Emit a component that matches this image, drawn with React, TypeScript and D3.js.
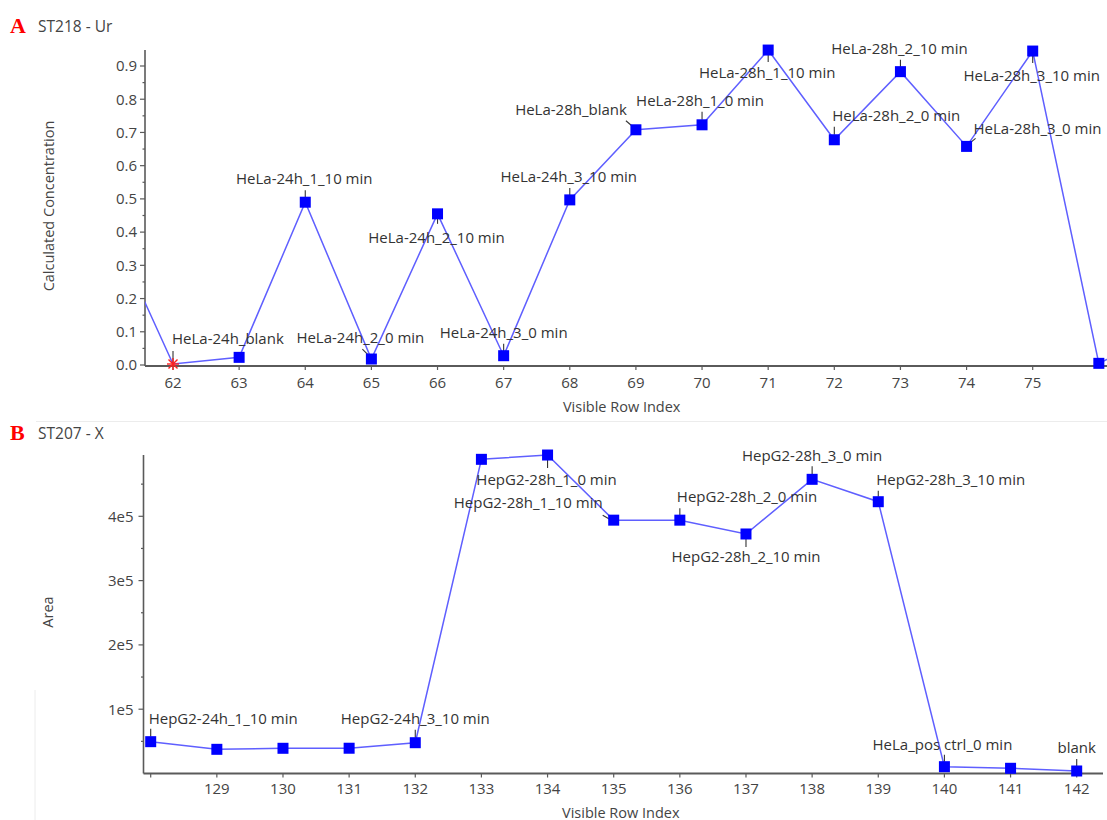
import React from 'react';
import * as d3 from 'd3';

// ---------- Panel A data (ST218 - Ur) ----------
const rowsA = [61, 62, 63, 64, 65, 66, 67, 68, 69, 70, 71, 72, 73, 74, 75, 76, 77];
const concA = [0.44, 0.003, 0.023, 0.49, 0.018, 0.455, 0.028, 0.497, 0.708, 0.723, 0.948, 0.678, 0.883, 0.658, 0.945, 0.005, 0.1];
const samplesA = ['', 'HeLa-24h_blank', '', 'HeLa-24h_1_10 min', 'HeLa-24h_2_0 min', 'HeLa-24h_2_10 min', 'HeLa-24h_3_0 min', 'HeLa-24h_3_10 min', 'HeLa-28h_blank', 'HeLa-28h_1_0 min', 'HeLa-28h_1_10 min', 'HeLa-28h_2_0 min', 'HeLa-28h_2_10 min', 'HeLa-28h_3_0 min', 'HeLa-28h_3_10 min', '', ''];
const excludedA = [62];
const xTicksA = [62, 63, 64, 65, 66, 67, 68, 69, 70, 71, 72, 73, 74, 75];
const yTicksA = [0, 0.1, 0.2, 0.3, 0.4, 0.5, 0.6, 0.7, 0.8, 0.9];
const yTickLabelsA = ['0.0', '0.1', '0.2', '0.3', '0.4', '0.5', '0.6', '0.7', '0.8', '0.9'];
const yMinorA = [0.05, 0.15, 0.25, 0.35, 0.45, 0.55, 0.65, 0.75, 0.85];

// ---------- Panel B data (ST207 - X) ----------
const rowsB = [128, 129, 130, 131, 132, 133, 134, 135, 136, 137, 138, 139, 140, 141, 142];
const areaB = [49500, 37600, 39200, 39300, 47900, 488600, 495300, 394000, 394000, 372500, 457500, 422700, 10600, 8100, 3900];
const samplesB = ['HepG2-24h_1_10 min', '', '', '', 'HepG2-24h_3_10 min', '', 'HepG2-28h_1_0 min', 'HepG2-28h_1_10 min', 'HepG2-28h_2_0 min', 'HepG2-28h_2_10 min', 'HepG2-28h_3_0 min', 'HepG2-28h_3_10 min', 'HeLa_pos ctrl_0 min', '', 'blank'];
const xTicksB = [128, 129, 130, 131, 132, 133, 134, 135, 136, 137, 138, 139, 140, 141, 142];
const xTickLabelsB = ['', '129', '130', '131', '132', '133', '134', '135', '136', '137', '138', '139', '140', '141', '142'];
const yTicksB = [100000, 200000, 300000, 400000];
const yTickLabelsB = ['1e5', '2e5', '3e5', '4e5'];
const yMinorB = [50000, 150000, 250000, 350000, 450000];

// ---------- label placement (offsets relative to the point, px) ----------
type LabelPos = { anchor: 'start' | 'middle' | 'end'; dx: number; dy: number; leader: [number, number, number, number] };
const labelPosA: Record<number, LabelPos> = {
  62: { anchor: 'start', dx: -1, dy: -25, leader: [0, -13, 0, -1] },
  64: { anchor: 'middle', dx: -1, dy: -23, leader: [0, -12, 0, -4] },
  65: { anchor: 'start', dx: -75, dy: -21, leader: [-9, -10, -2, -3] },
  66: { anchor: 'middle', dx: -1, dy: 24, leader: [0, 4, 0, 10] },
  67: { anchor: 'middle', dx: 0, dy: -23, leader: [0, -12, 0, -4] },
  68: { anchor: 'middle', dx: -1, dy: -23, leader: [0, -12, 0, -4] },
  69: { anchor: 'end', dx: -9, dy: -20, leader: [-10, -9, -3, -3] },
  70: { anchor: 'middle', dx: -2, dy: -24, leader: [0, -13, 0, -5] },
  71: { anchor: 'middle', dx: -1, dy: 23, leader: [0, 4, 0, 12] },
  72: { anchor: 'start', dx: -2, dy: -24, leader: [0, -13, 0, -5] },
  73: { anchor: 'middle', dx: -1, dy: -23, leader: [0, -12, 0, -4] },
  74: { anchor: 'start', dx: 7, dy: -18, leader: [9, -8, 3, -3] },
  75: { anchor: 'middle', dx: -1, dy: 25, leader: [0, 4, 0, 12] },
};
const labelPosB: Record<number, LabelPos> = {
  128: { anchor: 'start', dx: -2, dy: -23, leader: [0, -13, 0, -5] },
  132: { anchor: 'middle', dx: 0, dy: -24, leader: [0, -13, 0, -5] },
  134: { anchor: 'middle', dx: -1, dy: 25, leader: [0, 4, 0, 13] },
  135: { anchor: 'end', dx: -11, dy: -17, leader: [-11, -5, -4, -1] },
  136: { anchor: 'start', dx: -3, dy: -23, leader: [0, -12, 0, -5] },
  137: { anchor: 'middle', dx: 0, dy: 23, leader: [0, 4, 0, 13] },
  138: { anchor: 'middle', dx: 0, dy: -24, leader: [0, -13, 0, -5] },
  139: { anchor: 'start', dx: -2, dy: -22, leader: [0, -11, 0, -5] },
  140: { anchor: 'middle', dx: -2, dy: -22, leader: [0, -12, 0, -5] },
  142: { anchor: 'middle', dx: 0, dy: -23, leader: [0, -12, 0, -5] },
};

const FONT = "'Open Sans', 'Noto Sans', sans-serif";
const TEXT = '#333';
const AXIS = '#5a5a5a';
const LINE = '#5f5fff';
const MARK = '#0000ff';

type PanelProps = {
  id: string;
  rows: number[];
  values: number[];
  samples: string[];
  labelPos: Record<number, LabelPos>;
  excluded: number[];
  xScale: d3.ScaleLinear<number, number>;
  yScale: d3.ScaleLinear<number, number>;
  plotLeft: number;
  plotRight: number;
  plotTop: number;
  axisY: number;
  xTicks: number[];
  xTickLabels: string[];
  yTicks: number[];
  yTickLabels: string[];
  yMinor: number[];
  yLabelX: number;
  xLabelBaseline: number;
  xTitle: string;
  xTitlePos: [number, number];
  yTitle: string;
  yTitlePos: [number, number];
  letter: string;
  letterBaseline: number;
  title: string;
};

function Panel(p: PanelProps) {
  const line = d3
    .line<number>()
    .x((_, i) => p.xScale(p.rows[i]))
    .y((v) => p.yScale(v));
  const clipId = 'clip-' + p.id;
  return (
    <g>
      <defs>
        <clipPath id={clipId}>
          <rect x={p.plotLeft} y={p.plotTop - 20} width={p.plotRight - p.plotLeft} height={p.axisY - p.plotTop + 20} />
        </clipPath>
      </defs>
      {/* header */}
      <text x={10} y={p.letterBaseline} fill="#ff0000" fontFamily="'Liberation Serif', 'Times New Roman', serif" fontWeight="bold" fontSize={22}>
        {p.letter}
      </text>
      <text x={38} y={p.letterBaseline - 1} fill="#444" fontFamily={FONT} fontSize={15.5}>
        {p.title}
      </text>
      {/* y axis */}
      <line x1={p.plotLeft} x2={p.plotLeft} y1={p.plotTop} y2={p.axisY} stroke={AXIS} strokeWidth={1.6} />
      {p.yTicks.map((t, i) => (
        <g key={'yt' + i}>
          <line x1={p.plotLeft - 5} x2={p.plotLeft} y1={p.yScale(t)} y2={p.yScale(t)} stroke={AXIS} strokeWidth={1.2} />
          <text x={p.yLabelX} y={p.yScale(t) + 5.3} textAnchor="end" fill="#444" fontFamily={FONT} fontSize={15}>
            {p.yTickLabels[i]}
          </text>
        </g>
      ))}
      {p.yMinor.map((t, i) => (
        <line key={'ym' + i} x1={p.plotLeft - 2.5} x2={p.plotLeft} y1={p.yScale(t)} y2={p.yScale(t)} stroke={AXIS} strokeWidth={1.2} />
      ))}
      {/* x axis */}
      <line x1={p.plotLeft} x2={p.plotRight} y1={p.axisY} y2={p.axisY} stroke={AXIS} strokeWidth={1.8} />
      {p.xTicks.map((t, i) => (
        <g key={'xt' + i}>
          <line x1={p.xScale(t)} x2={p.xScale(t)} y1={p.axisY} y2={p.axisY + 4} stroke={AXIS} strokeWidth={1.2} />
          <text x={p.xScale(t)} y={p.xLabelBaseline} textAnchor="middle" fill="#444" fontFamily={FONT} fontSize={15}>
            {p.xTickLabels[i]}
          </text>
        </g>
      ))}
      {/* titles */}
      <text x={p.xTitlePos[0]} y={p.xTitlePos[1]} textAnchor="middle" fill="#444" fontFamily={FONT} fontSize={14.5}>
        {p.xTitle}
      </text>
      <text
        transform={`translate(${p.yTitlePos[0]},${p.yTitlePos[1]}) rotate(-90)`}
        textAnchor="middle"
        fill="#444"
        fontFamily={FONT}
        fontSize={14.5}
      >
        {p.yTitle}
      </text>
      {/* series */}
      <path d={line(p.values) || ''} fill="none" stroke={LINE} strokeWidth={1.5} clipPath={`url(#${clipId})`} />
      {/* leaders */}
      {p.rows.map((r, i) => {
        const lp = p.labelPos[r];
        if (!lp || !p.samples[i]) return null;
        const px = p.xScale(r);
        const py = p.yScale(p.values[i]);
        return (
          <line key={'ld' + r} x1={px + lp.leader[0]} y1={py + lp.leader[1]} x2={px + lp.leader[2]} y2={py + lp.leader[3]} stroke="#333" strokeWidth={1.1} />
        );
      })}
      {/* markers */}
      {p.rows.map((r, i) => {
        const px = p.xScale(r);
        const py = p.yScale(p.values[i]);
        if (px < p.plotLeft - 1 || px > p.plotRight + 1) return null;
        if (p.excluded.includes(r)) {
          const s = 6;
          return (
            <g key={'m' + r} stroke="#ff2020" strokeWidth={1.4}>
              <line x1={px - s} x2={px + s} y1={py} y2={py} />
              <line x1={px} x2={px} y1={py - s} y2={py + s} />
              <line x1={px - s * 0.75} x2={px + s * 0.75} y1={py - s * 0.75} y2={py + s * 0.75} />
              <line x1={px - s * 0.75} x2={px + s * 0.75} y1={py + s * 0.75} y2={py - s * 0.75} />
            </g>
          );
        }
        return <rect key={'m' + r} x={px - 5.5} y={py - 5.5} width={11} height={11} fill={MARK} />;
      })}
      {/* labels */}
      {p.rows.map((r, i) => {
        const lp = p.labelPos[r];
        if (!lp || !p.samples[i]) return null;
        const px = p.xScale(r);
        const py = p.yScale(p.values[i]);
        return (
          <text key={'lb' + r} x={px + lp.dx} y={py + lp.dy + 5.2} textAnchor={lp.anchor} fill={TEXT} fontFamily={FONT} fontSize={15}>
            {p.samples[i]}
          </text>
        );
      })}
    </g>
  );
}

export default function App() {
  const xA = d3.scaleLinear().domain([62, 75]).range([173, 1032.7]);
  const yA = d3.scaleLinear().domain([0, 0.9]).range([365, 66]);
  const xB = d3.scaleLinear().domain([128, 142]).range([150.7, 1076.7]);
  const yB = d3.scaleLinear().domain([0, 400000]).range([773.5, 516.3]);
  return (
    <div style={{ position: 'absolute', left: 0, top: 0 }}>
      <svg width={1107} height={820} style={{ display: 'block', background: '#fff' }}>
        <rect x={0} y={0} width={1107} height={820} fill="#fff" />
        <line x1={36} x2={1107} y1={421.5} y2={421.5} stroke="#ececec" strokeWidth={1} />
        <line x1={35} x2={35} y1={690} y2={820} stroke="#ececec" strokeWidth={1} />
        <Panel
          id="a"
          rows={rowsA}
          values={concA}
          samples={samplesA}
          labelPos={labelPosA}
          excluded={excludedA}
          xScale={xA}
          yScale={yA}
          plotLeft={145}
          plotRight={1107}
          plotTop={50}
          axisY={366}
          xTicks={xTicksA}
          xTickLabels={xTicksA.map(String)}
          yTicks={yTicksA}
          yTickLabels={yTickLabelsA}
          yMinor={yMinorA}
          yLabelX={137}
          xLabelBaseline={387.6}
          xTitle="Visible Row Index"
          xTitlePos={[621.7, 411.8]}
          yTitle="Calculated Concentration"
          yTitlePos={[53.5, 206]}
          letter="A"
          letterBaseline={33.3}
          title="ST218 - Ur"
        />
        <Panel
          id="b"
          rows={rowsB}
          values={areaB}
          samples={samplesB}
          labelPos={labelPosB}
          excluded={[]}
          xScale={xB}
          yScale={yB}
          plotLeft={143.5}
          plotRight={1103}
          plotTop={455}
          axisY={773.5}
          xTicks={xTicksB}
          xTickLabels={xTickLabelsB}
          yTicks={yTicksB}
          yTickLabels={yTickLabelsB}
          yMinor={yMinorB}
          yLabelX={133.5}
          xLabelBaseline={794.3}
          xTitle="Visible Row Index"
          xTitlePos={[620.8, 817.5]}
          yTitle="Area"
          yTitlePos={[52.5, 612]}
          letter="B"
          letterBaseline={440}
          title="ST207 - X"
        />
      </svg>
    </div>
  );
}
